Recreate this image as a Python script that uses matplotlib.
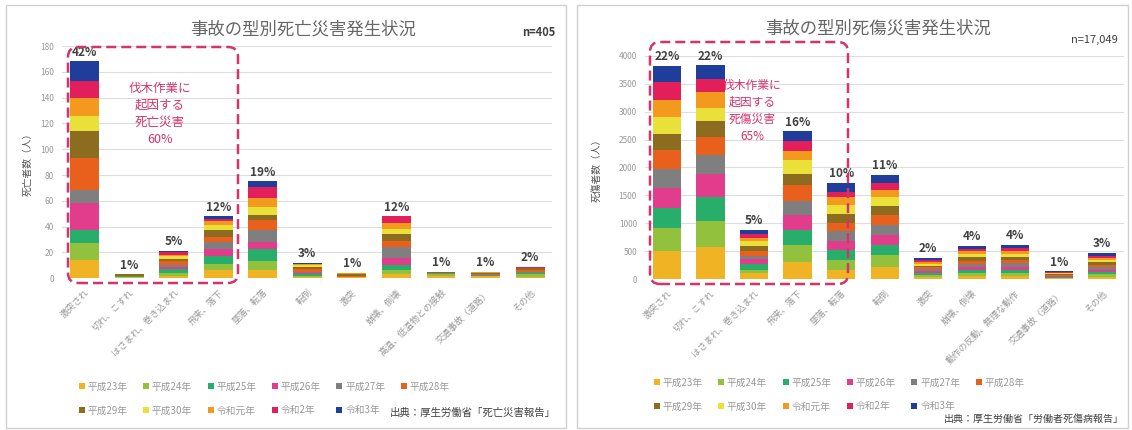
import matplotlib
matplotlib.use("Agg")
from matplotlib import pyplot as plt
from matplotlib.patches import FancyBboxPatch, Rectangle
import numpy as np

plt.rcParams['font.family'] = ['Noto Sans CJK JP', 'DejaVu Sans']

years = ['平成23年', '平成24年', '平成25年', '平成26年', '平成27年', '平成28年',
         '平成29年', '平成30年', '令和元年', '令和2年', '令和3年']
colors = ['#F0B323', '#92C13E', '#27AE6A', '#E23D8C', '#7F7F7F', '#E8601C',
          '#8C6D1F', '#E9E13A', '#F39A1E', '#E21F5B', '#1F3E9B']

# left: fatalities
cats_death = ['激突され', '切れ、こすれ', 'はさまれ、巻き込まれ', '飛来、落下', '墜落、転落',
              '転倒', '激突', '崩壊、倒壊', '高温、低温物との接触', '交通事故（道路）', 'その他']
pct_death = ['42%', '1%', '5%', '12%', '19%', '3%', '1%', '12%', '1%', '1%', '2%']
# rows = categories, cols = years
death = [
    [14, 13, 10, 21, 10, 25, 21, 12, 14, 13, 15],
    [1, 0, 1, 0, 0, 0, 1, 0, 0, 0, 0],
    [2, 2, 3, 2, 1, 3, 2, 2, 1, 2, 1],
    [6, 5, 6, 6, 5, 4, 5, 4, 3, 2, 2],
    [6, 7, 10, 5, 9, 8, 4, 6, 7, 9, 4],
    [1, 1, 1, 1, 1, 2, 2, 1, 1, 0, 1],
    [1, 0, 0, 0, 0, 1, 1, 0, 1, 0, 0],
    [3, 3, 4, 6, 8, 5, 5, 4, 5, 5, 0],
    [2, 1, 0, 0, 1, 0, 1, 0, 0, 0, 0],
    [2, 0, 0, 0, 1, 0, 1, 0, 1, 0, 0],
    [1, 2, 1, 0, 1, 1, 2, 0, 0, 1, 0],
]

# right: casualties
cats_inj = ['激突され', '切れ、こすれ', 'はさまれ、巻き込まれ', '飛来、落下', '墜落、転落',
            '転倒', '激突', '崩壊、倒壊', '動作の反動、無理な動作', '交通事故（道路）', 'その他']
pct_inj = ['22%', '22%', '5%', '16%', '10%', '11%', '2%', '4%', '4%', '1%', '3%']
inj = [
    [496, 418, 358, 358, 340, 346, 281, 304, 310, 316, 298],
    [573, 472, 424, 412, 346, 328, 281, 239, 269, 239, 245],
    [107, 60, 107, 80, 60, 90, 90, 90, 60, 70, 66],
    [299, 316, 269, 269, 239, 287, 203, 257, 161, 179, 167],
    [167, 179, 167, 173, 167, 149, 167, 161, 149, 90, 161],
    [215, 221, 179, 179, 179, 179, 149, 167, 131, 119, 149],
    [40, 35, 35, 35, 30, 35, 30, 35, 30, 35, 36],
    [50, 60, 50, 50, 55, 60, 70, 50, 50, 50, 52],
    [55, 60, 55, 55, 55, 60, 55, 55, 55, 55, 55],
    [12, 12, 12, 12, 12, 14, 15, 12, 12, 12, 12],
    [40, 45, 40, 40, 45, 45, 45, 40, 40, 40, 46],
]

fig = plt.figure(figsize=(11.32, 4.3), dpi=100)

# panel frames
for x0, w in [(6, 560), (577, 551)]:
    fig.patches.append(Rectangle((x0 / 1132, 2 / 430), w / 1132, 423 / 430,
                                 transform=fig.transFigure, fill=False,
                                 edgecolor='#D0D0D0', linewidth=1))


def draw(ax, cats, data, pcts, ymax, ystep, ylabel):
    data = np.array(data)
    x = np.arange(len(cats))
    bottom = np.zeros(len(cats))
    handles = []
    for j in range(len(years)):
        b = ax.bar(x, data[:, j], 0.65, bottom=bottom, color=colors[j],
                   label=years[j], zorder=3)
        handles.append(b)
        bottom += data[:, j]
    for i in range(len(cats)):
        ax.text(x[i], bottom[i] + ymax * 0.012, pcts[i], ha='center', va='bottom',
                fontsize=8.5, fontweight='bold', color='#404040')
    ax.set_xlim(-0.5, len(cats) - 0.5)
    ax.set_ylim(0, ymax)
    ax.set_yticks(np.arange(0, ymax + 1, ystep))
    ax.grid(axis='y', color='#DDDDDD', linewidth=0.8, zorder=0)
    for s in ax.spines.values():
        s.set_visible(False)
    ax.tick_params(axis='y', length=0, labelsize=6, labelcolor='#999999', pad=6)
    ax.tick_params(axis='x', length=0, pad=7)
    ax.set_xticks(x)
    ax.set_xticklabels(cats, rotation=45, ha='right', rotation_mode='anchor',
                       fontsize=6.5, color='#999999')
    ax.set_ylabel(ylabel, fontsize=7, color='#555555', labelpad=4)
    order = [0, 6, 1, 7, 2, 8, 3, 9, 4, 10, 5]
    return [handles[k] for k in order], [years[k] for k in order]


axL = fig.add_axes([0.055, 0.353, 0.433, 0.54])
hL, lL = draw(axL, cats_death, death, pct_death, 180, 20, '死亡者数（人）')
axL.yaxis.set_label_coords(-0.06, 0.5)

axR = fig.add_axes([0.570, 0.351, 0.423, 0.519])
hR, lR = draw(axR, cats_inj, inj, pct_inj, 4000, 500, '死傷者数（人）')
axR.yaxis.set_label_coords(-0.09, 0.5)

# titles and n
fig.text(303 / 1132, 1 - 30 / 430, '事故の型別死亡災害発生状況', ha='center',
         va='center', fontsize=12.5, color='#666666')
fig.text(878 / 1132, 1 - 29 / 430, '事故の型別死傷災害発生状況', ha='center',
         va='center', fontsize=12.5, color='#666666')
fig.text(555 / 1132, 1 - 33 / 430, 'n=405', ha='right', va='center',
         fontsize=8, fontweight='bold', color='#404040')
fig.text(1118 / 1132, 1 - 40 / 430, 'n=17,049', ha='right', va='center',
         fontsize=8, color='#404040')

for h, l, x0, y0 in [(hL, lL, 70, 373), (hR, lR, 645, 369)]:
    fig.legend(h, l, loc='upper left', bbox_to_anchor=(x0 / 1132, 1 - y0 / 430),
               ncol=6, frameon=False, fontsize=7, handlelength=0.6,
               handleheight=0.6, handletextpad=0.3, columnspacing=1.6,
               labelcolor='#999999', labelspacing=1.4)

# dashed highlight boxes (inch coordinates so the corners stay round)
pink = '#D6336C'
for x0, x1, y0, y1 in [(0.68, 2.38, 1.47, 3.83), (6.50, 8.48, 1.46, 3.88)]:
    fig.patches.append(FancyBboxPatch((x0, y0), x1 - x0, y1 - y0,
                                      boxstyle='round,pad=0,rounding_size=0.1',
                                      transform=fig.dpi_scale_trans, fill=False,
                                      edgecolor=pink, linewidth=1.8,
                                      linestyle=(0, (4, 2)), zorder=5))

fig.text(160 / 1132, 1 - 114 / 430, '伐木作業に\n起因する\n死亡災害\n60%',
         ha='center', va='center', fontsize=9, color=pink, linespacing=1.4)
fig.text(752 / 1132, 1 - 111 / 430, '伐木作業に\n起因する\n死傷災害\n65%',
         ha='center', va='center', fontsize=8.5, color=pink, linespacing=1.4)

fig.text(556 / 1132, 1 - 413 / 430, '出典：厚生労働省「死亡災害報告」',
         ha='right', va='center', fontsize=7.5, color='#404040')
fig.text(1124 / 1132, 1 - 419 / 430, '出典：厚生労働省「労働者死傷病報告」',
         ha='right', va='center', fontsize=7.2, color='#404040')

fig.savefig('out.png', dpi=100)
